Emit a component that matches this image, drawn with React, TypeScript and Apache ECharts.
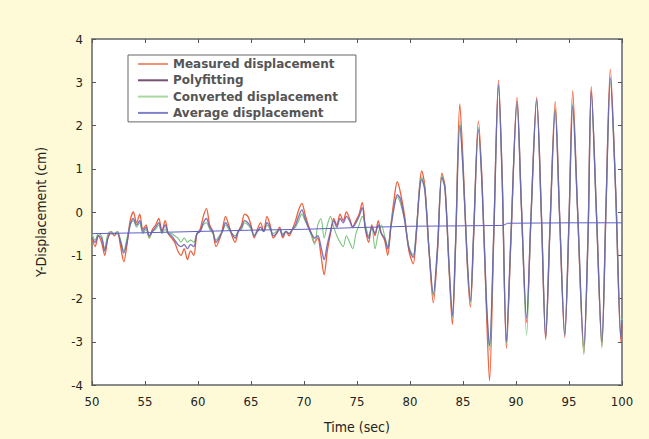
import React, { useEffect, useRef } from "react";
import * as echarts from "echarts";

// Time stamps (sec) – low-amplitude part
const noiseTimes = [
  50.0, 50.3, 50.6, 50.9, 51.2, 51.5, 51.8, 52.1, 52.4, 52.7,
  53.0, 53.3, 53.6, 53.9, 54.2, 54.5, 54.8, 55.1, 55.4, 55.7,
  56.0, 56.3, 56.6, 56.9, 57.2, 57.5, 57.8, 58.1, 58.4, 58.7,
  59.0, 59.3, 59.6, 59.9, 60.2, 60.5, 60.8, 61.1, 61.4, 61.7,
  62.0, 62.3, 62.6, 62.9, 63.2, 63.5, 63.8, 64.1, 64.4, 64.7,
  65.0, 65.3, 65.6, 65.9, 66.2, 66.5, 66.8, 67.1, 67.4, 67.7,
  68.0, 68.3, 68.6, 68.9, 69.2, 69.5, 69.8, 70.1, 70.4, 70.7,
  71.0, 71.3, 71.6, 71.9, 72.2, 72.5, 72.8, 73.1, 73.4, 73.7,
  74.0, 74.3, 74.6, 74.9, 75.2, 75.5, 75.8, 76.1, 76.4, 76.7,
  77.0, 77.3, 77.6, 77.9, 78.2, 78.5, 78.8, 79.1,
];
// Time stamps (sec) – oscillating part
const oscTimes = [
  79.5, 79.9, 80.3, 80.6, 80.9, 81.1, 81.4, 81.8, 82.2, 82.6,
  83.0, 83.3, 83.7, 84.0, 84.3, 84.7, 85.0, 85.4, 85.7, 86.0,
  86.45, 86.8, 87.2, 87.5, 87.9, 88.35, 88.7, 89.1, 89.5, 90.1,
  90.5, 91.0, 91.4, 91.95, 92.4, 92.8, 93.2, 93.7, 94.1, 94.6,
  95.0, 95.35, 95.8, 96.4, 96.8, 97.1, 97.6, 98.1, 98.5, 98.9,
  99.4, 99.9, 100.0,
];

const measuredNoise = [
  -0.6, -0.8, -0.55, -0.7, -1.0, -0.6, -0.45, -0.55, -0.45, -0.8,
  -1.15, -0.75, -0.2, 0.0, -0.25, -0.05, -0.4, -0.3, -0.6, -0.4,
  -0.3, -0.15, -0.45, -0.2, -0.5, -0.6, -0.7, -0.9, -1.0, -0.85,
  -1.1, -0.9, -1.0, -0.5, -0.4, -0.1, 0.08, -0.3, -0.45, -0.8,
  -0.65, -0.4, -0.1, -0.3, -0.55, -0.7, -0.45, -0.3, -0.05, -0.1,
  -0.3, -0.6, -0.4, -0.25, -0.45, -0.1, -0.3, -0.6, -0.5, -0.35,
  -0.6, -0.45, -0.55, -0.4, -0.2, 0.05, 0.2, -0.05, -0.3, -0.5,
  -0.7, -0.6, -1.0, -1.45, -0.9, -0.5, -0.15, -0.3, -0.05, -0.2,
  0.0, -0.15, -0.35, -0.2, -0.05, 0.22, -0.4, -0.7, -0.3, -0.55,
  -0.2, -0.5, -0.65, -1.0, -0.3, 0.3, 0.7, 0.45,
];
const measuredOsc = [
  -0.1, -0.9, -1.2, -0.5, 0.6, 0.95, 0.6, -0.9, -2.1, -0.9,
  0.9, 0.6, -1.4, -2.6, -0.8, 2.5, 1.2, -1.2, -2.2, -0.6,
  2.1, 0.7, -2.2, -3.9, -0.6, 3.05, 0.8, -3.15, -0.8, 2.65,
  0.2, -2.55, -0.2, 2.65, -0.1, -2.95, -0.4, 2.55, 0.0, -2.9,
  -0.2, 2.8, 0.1, -3.25, -0.5, 2.9, -0.1, -3.1, 0.2, 3.3,
  0.5, -3.0, -2.6,
];

const polyNoise = [
  -0.6, -0.7, -0.55, -0.6, -0.9, -0.6, -0.5, -0.5, -0.5, -0.7,
  -0.95, -0.7, -0.3, -0.15, -0.3, -0.2, -0.45, -0.35, -0.55, -0.45,
  -0.35, -0.25, -0.45, -0.3, -0.5, -0.55, -0.65, -0.75, -0.8, -0.75,
  -0.85, -0.75, -0.8, -0.5, -0.45, -0.25, -0.15, -0.35, -0.45, -0.7,
  -0.6, -0.45, -0.25, -0.35, -0.5, -0.6, -0.45, -0.35, -0.2, -0.25,
  -0.35, -0.55, -0.45, -0.35, -0.45, -0.25, -0.35, -0.55, -0.5, -0.4,
  -0.55, -0.45, -0.5, -0.4, -0.3, -0.1, 0.05, -0.15, -0.35, -0.5,
  -0.6, -0.55, -0.8, -1.1, -0.75, -0.45, -0.2, -0.35, -0.15, -0.25,
  -0.1, -0.2, -0.35, -0.25, -0.1, 0.1, -0.4, -0.6, -0.35, -0.5,
  -0.3, -0.5, -0.6, -0.85, -0.35, 0.1, 0.4, 0.3,
];
const polyOsc = [
  -0.2, -0.85, -1.05, -0.45, 0.5, 0.75, 0.5, -0.9, -1.9, -0.8,
  0.8, 0.55, -1.3, -2.4, -0.7, 2.0, 1.0, -1.1, -2.05, -0.5,
  1.9, 0.6, -2.0, -3.1, -0.5, 2.95, 0.7, -3.0, -0.7, 2.55,
  0.2, -2.45, -0.2, 2.6, -0.1, -2.9, -0.4, 2.35, 0.0, -2.85,
  -0.2, 2.45, 0.1, -3.1, -0.5, 2.8, -0.1, -3.0, 0.2, 3.1,
  0.5, -2.9, -2.5,
];

const convertedNoise = [
  -0.5, -0.65, -0.5, -0.55, -0.85, -0.5, -0.45, -0.5, -0.45, -0.65,
  -0.9, -0.6, -0.3, -0.2, -0.35, -0.25, -0.5, -0.4, -0.6, -0.45,
  -0.4, -0.3, -0.5, -0.4, -0.5, -0.5, -0.55, -0.6, -0.7, -0.6,
  -0.7, -0.65, -0.7, -0.5, -0.45, -0.3, -0.25, -0.4, -0.5, -0.65,
  -0.55, -0.45, -0.3, -0.4, -0.5, -0.55, -0.45, -0.4, -0.25, -0.3,
  -0.4, -0.55, -0.45, -0.4, -0.45, -0.3, -0.4, -0.5, -0.45, -0.4,
  -0.5, -0.45, -0.5, -0.4, -0.35, -0.2, -0.05, -0.2, -0.35, -0.55,
  -0.75, -0.3, -0.15, -0.6, -0.3, -0.1, -0.35, -0.55, -0.7, -0.8,
  -0.55, -0.7, -0.85, -0.5, -0.3, -0.1, -0.3, -0.55, -0.35, -0.85,
  -0.5, -0.3, -0.55, -0.8, -0.3, 0.15, 0.35, 0.2,
];
const convertedOsc = [
  -0.2, -0.8, -1.0, -0.4, 0.55, 0.8, 0.55, -0.9, -1.95, -0.8,
  0.85, 0.55, -1.35, -2.45, -0.7, 2.1, 1.0, -1.1, -2.1, -0.5,
  1.95, 0.6, -2.0, -3.2, -0.5, 2.9, 0.7, -3.05, -0.7, 2.5,
  0.2, -2.85, -0.2, 2.55, -0.1, -2.85, -0.4, 2.4, 0.0, -2.8,
  -0.2, 2.5, 0.1, -3.3, -0.5, 2.75, -0.1, -3.15, 0.2, 3.0,
  0.5, -2.85, -2.45,
];

const avgTimes = [50, 55, 60, 65, 70, 75, 80, 85, 88.8, 89.2, 95, 100];
const avgValues = [-0.5, -0.48, -0.45, -0.42, -0.4, -0.36, -0.33, -0.32, -0.31, -0.26, -0.25, -0.25];

const seriesNames = [
  "Measured displacement",
  "Polyfitting",
  "Converted displacement",
  "Average displacement",
];

const xTicks = { min: 50, max: 100, interval: 5 };
const yTicks = { min: -4, max: 4, interval: 1 };

function pairs(ts: number[], vs: number[]) {
  return ts.map((t, i) => [t, vs[i]]);
}

export default function App() {
  const ref = useRef<HTMLDivElement>(null);
  useEffect(() => {
    document.body.style.margin = "0";
    if (!ref.current) return;
    const chart = echarts.init(ref.current, undefined, { renderer: "svg" });
    const allTimes = [...noiseTimes, ...oscTimes];
    const tickFont = "'DejaVu Sans Condensed', 'Liberation Sans Narrow', 'Roboto Condensed', 'Noto Sans', sans-serif";
    const axisCommon = {
      axisLine: { show: false, onZero: false },
      splitLine: { show: false },
      axisTick: { show: true, inside: true, length: 4, lineStyle: { color: "#555", width: 1 } },
    };
    chart.setOption({
      animation: false,
      backgroundColor: "#fef9d6",
      grid: {
        left: 92,
        top: 39,
        width: 530,
        height: 346,
        show: true,
        backgroundColor: "#ffffff",
        borderColor: "#8a8a8a",
        borderWidth: 2,
      },
      legend: {
        orient: "vertical",
        left: 128,
        top: 55,
        backgroundColor: "#ffffff",
        borderColor: "#666",
        borderWidth: 1,
        borderRadius: 0,
        padding: [3, 18, 3, 10],
        itemGap: 4.3,
        itemWidth: 30,
        itemHeight: 2,
        icon: "rect",
        textStyle: {
          fontFamily: "'DejaVu Sans', sans-serif",
          fontSize: 12,
          fontWeight: "bold",
          color: "#555",
        },
        data: seriesNames,
      },
      xAxis: [
        {
          type: "value",
          ...xTicks,
          position: "bottom",
          ...axisCommon,
          axisLabel: { color: "#222", fontSize: 13, fontFamily: tickFont, margin: 10 },
          name: "Time (sec)",
          nameLocation: "middle",
          nameGap: 35,
          nameTextStyle: { color: "#222", fontSize: 14, fontFamily: tickFont },
        },
        {
          type: "value",
          ...xTicks,
          position: "top",
          ...axisCommon,
          axisLabel: { show: false },
        },
      ],
      yAxis: [
        {
          type: "value",
          ...yTicks,
          position: "left",
          ...axisCommon,
          axisLabel: { color: "#222", fontSize: 13, fontFamily: tickFont, margin: 9 },
          name: "Y-Displacement (cm)",
          nameLocation: "middle",
          nameGap: 44,
          nameTextStyle: { color: "#222", fontSize: 14, fontFamily: tickFont },
        },
        {
          type: "value",
          ...yTicks,
          position: "right",
          ...axisCommon,
          axisLabel: { show: false },
        },
      ],
      series: [
        {
          name: seriesNames[0],
          type: "line",
          symbol: "none",
          smooth: 0.3,
          data: pairs(allTimes, [...measuredNoise, ...measuredOsc]),
          lineStyle: { color: "#f0603c", width: 1.3 },
          itemStyle: { color: "#f4907a" },
        },
        {
          name: seriesNames[2],
          type: "line",
          symbol: "none",
          smooth: 0.3,
          data: pairs(allTimes, [...convertedNoise, ...convertedOsc]),
          lineStyle: { color: "#7cc47c", width: 1.1 },
          itemStyle: { color: "#a8d8a0" },
        },
        {
          name: seriesNames[1],
          type: "line",
          symbol: "none",
          smooth: 0.3,
          data: pairs(allTimes, [...polyNoise, ...polyOsc]),
          lineStyle: { color: "#6a5eb0", width: 1.4, opacity: 0.85 },
          itemStyle: { color: "#7a4f74" },
        },
        {
          name: seriesNames[3],
          type: "line",
          symbol: "none",
          data: pairs(avgTimes, avgValues),
          lineStyle: { color: "#6060c8", width: 1 },
          itemStyle: { color: "#8080c8" },
        },
      ],
    });
    return () => chart.dispose();
  }, []);
  return <div ref={ref} style={{ width: 649, height: 439 }} />;
}
